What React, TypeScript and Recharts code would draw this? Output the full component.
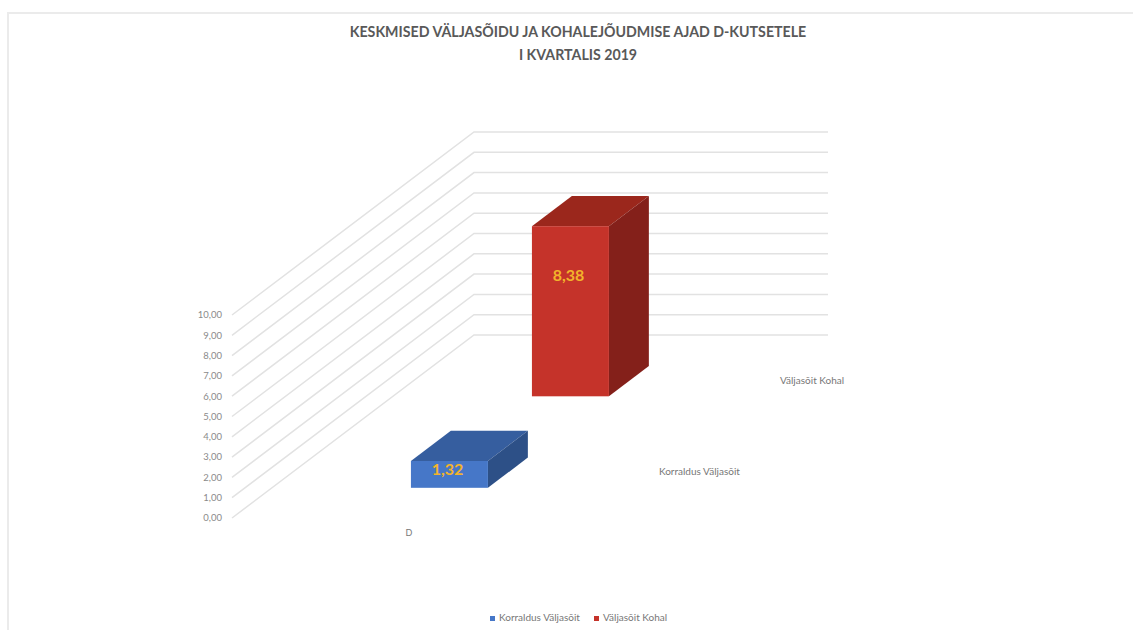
import { BarChart, Bar, XAxis, YAxis, CartesianGrid, Legend } from "recharts";

const titleLines = ["KESKMISED VÄLJASÕIDU JA KOHALEJÕUDMISE AJAD D-KUTSETELE", "I KVARTALIS 2019"];
const categories = ["D"];
const korraldusValues = [1.32];
const kohalValues = [8.38];
const valueTicks = [0, 1, 2, 3, 4, 5, 6, 7, 8, 9, 10];

const data = categories.map((category, i) => ({
  category,
  "Korraldus Väljasõit": korraldusValues[i],
  "Väljasõit Kohal": kohalValues[i],
}));

// floor of the fake 3D box, in px
const DEPTH_X = 242;
const DEPTH_Y = 183;
const FONT = "Lato, sans-serif";

const formatValue = (v: number) => v.toFixed(2).replace(".", ",");

// gridlines run from the front edge back along the side wall, then across the back wall
const renderGridLine = (props: any) => {
  const { x1, x2, y1, key } = props;
  const points = [
    `${x1},${y1}`,
    `${x1 + DEPTH_X},${y1 - DEPTH_Y}`,
    `${x2 + DEPTH_X},${y1 - DEPTH_Y}`,
  ].join(" ");
  return <polyline key={key} points={points} fill="none" stroke="#e2e2e2" strokeWidth={1.5} />;
};

const makeBox =
  (name: string, depthStart: number, labelDy: number, top: string, side: string) => (props: any) => {
    const { x, y, width, height, fill, value } = props;
    const val = Array.isArray(value) ? value[1] : value;
    const sx = depthStart * DEPTH_X;
    const sy = depthStart * DEPTH_Y;
    const dx = 0.165 * DEPTH_X;
    const dy = 0.165 * DEPTH_Y;
    const left = x + sx;
    const right = left + width;
    const upper = y - sy;
    const lower = upper + height;
    return (
      <g>
        <polygon
          points={`${left},${upper} ${left + dx},${upper - dy} ${right + dx},${upper - dy} ${right},${upper}`}
          fill={top}
        />
        <polygon
          points={`${right},${upper} ${right + dx},${upper - dy} ${right + dx},${lower - dy} ${right},${lower}`}
          fill={side}
        />
        <rect x={left} y={upper} width={width} height={height} fill={fill} />
        <text
          x={left + width / 2 - 2}
          y={upper + labelDy}
          textAnchor="middle"
          dominantBaseline="middle"
          fontFamily={FONT}
          fontWeight={700}
          fontSize={16}
          fill="#f2b32b"
        >
          {formatValue(val)}
        </text>
        <text x={right + 171} y={lower - 15} fontSize={10} fontFamily={FONT} fill="#777777" dominantBaseline="middle">
          {name}
        </text>
      </g>
    );
  };

export default function App() {
  return (
    <div style={{ position: "absolute", left: 0, top: 0, width: 1133, height: 630, overflow: "hidden", background: "#fff" }}>
      <div style={{ position: "absolute", left: 7, top: 12, right: 0, bottom: 0, borderTop: "2px solid #ebebeb", borderLeft: "2px solid #ebebeb" }} />
      <div
        style={{
          position: "absolute",
          left: 0,
          width: 1156,
          top: 20,
          textAlign: "center",
          fontFamily: FONT,
          fontWeight: 700,
          fontSize: 14.2,
          lineHeight: "23px",
          color: "#595959",
        }}
      >
        {titleLines.map((line) => (
          <div key={line}>{line}</div>
        ))}
      </div>
      <BarChart
        width={1133}
        height={630}
        data={data}
        margin={{ top: 315, right: 547, bottom: 70, left: 190 }}
        barSize={77}
        barGap={-77}
        style={{ position: "absolute", left: 0, top: 0 }}
      >
        <CartesianGrid vertical={false} horizontal={renderGridLine} />
        <XAxis
          dataKey="category"
          axisLine={false}
          tickLine={false}
          height={30}
          tick={{ fontSize: 9, fontFamily: FONT, fill: "#777777" }}
          tickMargin={6}
        />
        <YAxis
          domain={[0, 10]}
          ticks={valueTicks}
          width={42}
          interval={0}
          axisLine={false}
          tickLine={false}
          tickFormatter={formatValue}
          tick={{ fontSize: 9.5, fontFamily: FONT, fill: "#8a8a8a" }}
          tickMargin={4}
        />
        <Legend
          iconType="square"
          iconSize={5}
          verticalAlign="bottom"
          align="left"
          wrapperStyle={{ left: 490, width: 220, bottom: 7, fontFamily: FONT, fontSize: 10, color: "#777777" }}
          formatter={(value) => <span style={{ color: "#777777", paddingRight: 4 }}>{value}</span>}
        />
        <Bar
          dataKey="Korraldus Väljasõit"
          fill="#4677c8"
          isAnimationActive={false}
          shape={makeBox("Korraldus Väljasõit", 0.165, 10, "#365e9f", "#2d5087")}
        />
        <Bar
          dataKey="Väljasõit Kohal"
          fill="#c5332a"
          isAnimationActive={false}
          shape={makeBox("Väljasõit Kohal", 0.665, 51, "#9b271c", "#84201a")}
        />
      </BarChart>
    </div>
  );
}
